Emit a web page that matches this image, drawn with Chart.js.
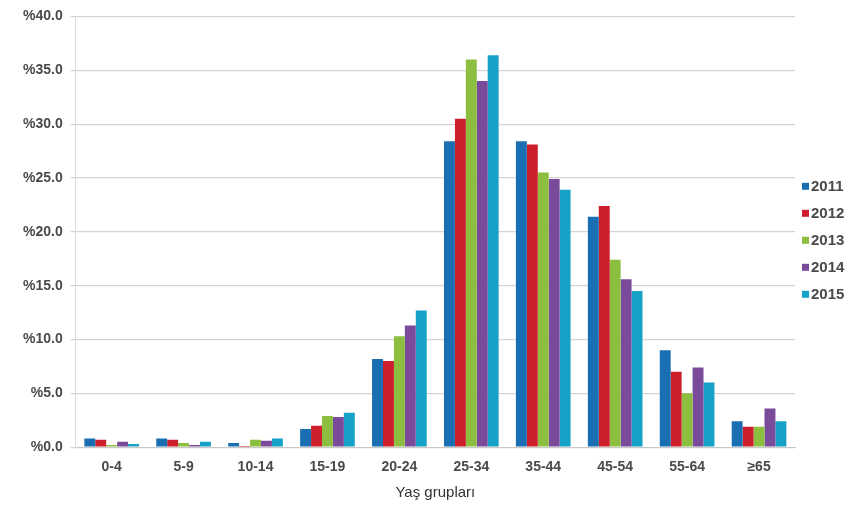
<!DOCTYPE html>
<html>
<head>
<meta charset="utf-8">
<script src="https://cdn.jsdelivr.net/npm/chart.js@4/dist/chart.umd.min.js"></script>
<style>
  html, body { margin: 0; padding: 0; background: #ffffff; }
  #wrap { width: 861px; height: 509px; }
</style>
</head>
<body>
<div id="wrap"><canvas id="chart" width="861" height="509"></canvas></div>
<script>
// Age groups on the horizontal axis
const ageGroups = ['0-4', '5-9', '10-14', '15-19', '20-24', '25-34', '35-44', '45-54', '55-64', '≥65'];

// Share of each age group (%) per year
const y2011 = [0.8, 0.8, 0.4, 1.7, 8.2, 28.4, 28.4, 21.4, 9.0, 2.4];
const y2012 = [0.7, 0.7, 0.1, 2.0, 8.0, 30.5, 28.1, 22.4, 7.0, 1.9];
const y2013 = [0.2, 0.4, 0.7, 2.9, 10.3, 36.0, 25.5, 17.4, 5.0, 1.9];
const y2014 = [0.5, 0.2, 0.6, 2.8, 11.3, 34.0, 24.9, 15.6, 7.4, 3.6];
const y2015 = [0.3, 0.5, 0.8, 3.2, 12.7, 36.4, 23.9, 14.5, 6.0, 2.4];

// Y axis range and tick step (%)
const yMin = 0;
const yMax = 40;
const yStep = 5;

const years = ['2011', '2012', '2013', '2014', '2015'];
const series = [y2011, y2012, y2013, y2014, y2015];
const colors = ['#1a6fb3', '#cc1f2b', '#8cbf40', '#7a4b9b', '#16a2c6'];

const FONT = '"Liberation Sans", Arial, Helvetica, sans-serif';
const TEXT = '#4a4a4a';

// Compact legend to the right of the plot: small square, label right next to it
const sideLegend = {
  id: 'sideLegend',
  afterDraw(chart) {
    const { ctx, chartArea } = chart;
    const x0 = chartArea.right + 7;
    const rowH = 27;
    const n = chart.data.datasets.length;
    const yTop = chartArea.top + (chartArea.bottom - chartArea.top) / 2 - (n - 1) * rowH / 2 + 8;
    ctx.save();
    ctx.font = 'bold 15px ' + FONT;
    ctx.textBaseline = 'middle';
    ctx.textAlign = 'left';
    chart.data.datasets.forEach((ds, i) => {
      const y = yTop + i * rowH;
      ctx.fillStyle = ds.backgroundColor;
      ctx.fillRect(x0, y - 3, 7, 7);
      ctx.fillStyle = TEXT;
      ctx.fillText(ds.label, x0 + 9, y + 1);
    });
    ctx.restore();
  }
};

new Chart(document.getElementById('chart'), {
  type: 'bar',
  data: {
    labels: ageGroups,
    datasets: years.map((y, i) => ({
      label: y,
      data: series[i],
      backgroundColor: colors[i],
      borderWidth: 0,
      categoryPercentage: 0.76,
      barPercentage: 1.0
    }))
  },
  plugins: [sideLegend],
  options: {
    responsive: false,
    animation: false,
    devicePixelRatio: 1,
    layout: { padding: { left: 15, right: 66, top: 9, bottom: 7 } },
    plugins: {
      tooltip: { enabled: false },
      legend: { display: false }
    },
    scales: {
      x: {
        grid: { display: false, drawTicks: false },
        border: { color: '#c8c8c8', width: 1 },
        ticks: { color: TEXT, padding: 12, font: { family: FONT, size: 14, weight: 'bold' } },
        title: {
          display: true,
          text: 'Yaş grupları',
          color: '#333',
          padding: { top: -4, bottom: 0 },
          font: { family: FONT, size: 15 }
        }
      },
      y: {
        min: yMin,
        max: yMax,
        ticks: {
          stepSize: yStep,
          color: TEXT,
          padding: 8,
          font: { family: FONT, size: 14, weight: 'bold' },
          callback: v => '%' + v.toFixed(1)
        },
        grid: { color: '#d4d4d4', lineWidth: 1.2, tickLength: 5 },
        border: { color: '#dcdcdc', width: 1 }
      }
    }
  }
});
</script>
</body>
</html>
